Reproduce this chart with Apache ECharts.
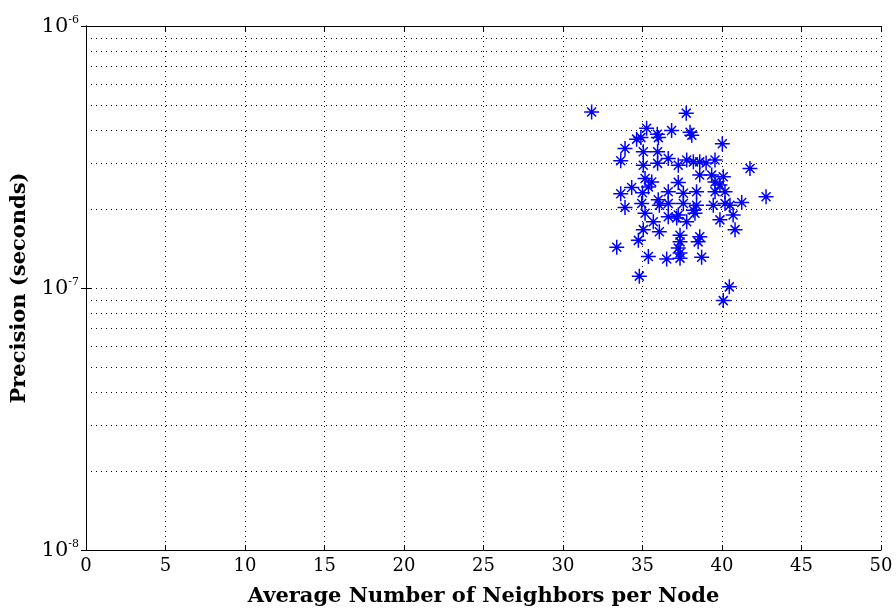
<!DOCTYPE html>
<html>
<head>
<meta charset="utf-8">
<script src="https://cdn.jsdelivr.net/npm/echarts@6/dist/echarts.min.js"></script>
<style>html,body{margin:0;padding:0;background:#fff}#c{width:896px;height:613px}</style>
</head>
<body>
<div id="c"></div>
<script>
// Average number of neighbors per node
var xValues = [31.8,37.75,35.26,36.83,37.99,35.93,38.1,34.63,34.9,36.0,40.02,33.9,35.05,35.95,33.63,36.62,35.05,35.95,37.25,37.78,38.2,38.6,39.0,39.56,41.76,38.6,35.16,35.58,35.37,37.25,36.62,37.57,38.4,39.35,39.56,39.87,40.08,39.56,40.19,34.32,33.63,35.0,42.77,41.24,33.9,34.95,35.99,36.62,37.57,38.4,39.45,40.19,35.16,36.62,37.25,37.15,38.2,38.3,37.78,39.87,40.7,35.68,35.05,36.06,37.36,38.6,40.82,37.36,38.5,37.25,37.36,35.37,36.52,37.36,38.72,34.74,33.38,34.8,40.46,40.08,36.06,40.5];
// Precision (seconds)
var yValues = [4.7e-7,4.65e-7,4.07e-7,3.99e-7,3.93e-7,3.86e-7,3.83e-7,3.70e-7,3.75e-7,3.75e-7,3.55e-7,3.41e-7,3.31e-7,3.31e-7,3.06e-7,3.12e-7,2.94e-7,2.99e-7,2.94e-7,3.08e-7,3.03e-7,3.03e-7,3.0e-7,3.08e-7,2.86e-7,2.70e-7,2.62e-7,2.54e-7,2.43e-7,2.53e-7,2.33e-7,2.30e-7,2.33e-7,2.70e-7,2.54e-7,2.47e-7,2.66e-7,2.33e-7,2.33e-7,2.42e-7,2.29e-7,2.31e-7,2.23e-7,2.12e-7,2.03e-7,2.10e-7,2.17e-7,2.10e-7,2.10e-7,2.07e-7,2.07e-7,2.10e-7,1.93e-7,1.87e-7,1.90e-7,1.85e-7,1.98e-7,1.93e-7,1.79e-7,1.82e-7,1.90e-7,1.79e-7,1.67e-7,1.64e-7,1.59e-7,1.57e-7,1.67e-7,1.50e-7,1.50e-7,1.42e-7,1.36e-7,1.32e-7,1.29e-7,1.30e-7,1.31e-7,1.52e-7,1.43e-7,1.11e-7,1.01e-7,8.95e-8,2.07e-7,2.07e-7];
var xTicks = [0,5,10,15,20,25,30,35,40,45,50];
var yTickExponents = [-8,-7,-6];

var xName = 'Average Number of Neighbors per Node';
var yName = 'Precision (seconds)';

var points = xValues.map(function(x, i){ return [x, yValues[i]]; });
var star = 'path://M9 0H11V20H9Z M0 9H20V11H0Z M3.3 4.7L4.7 3.3L16.7 15.3L15.3 16.7Z M15.3 3.3L16.7 4.7L4.7 16.7L3.3 15.3Z';
var serif = 'DejaVu Serif';
var dotted = {color:'#000', width:1, type:[1,4]};

var chart = echarts.init(document.getElementById('c'), null, {renderer:'canvas'});
chart.setOption({
  animation:false,
  backgroundColor:'#fff',
  grid:{left:86,right:15,top:26,bottom:63,containLabel:false,outerBoundsMode:'none'},
  xAxis:[{
    type:'value', min:xTicks[0], max:xTicks[xTicks.length-1], interval:5,
    name:xName, nameLocation:'middle', nameGap:36,
    nameTextStyle:{fontFamily:serif,fontSize:21,fontWeight:'bold',color:'#000'},
    axisLine:{show:true,lineStyle:{color:'#000',width:1}},
    axisTick:{show:true,inside:true,length:5,lineStyle:{color:'#000'}},
    axisLabel:{fontFamily:serif,fontSize:18,color:'#000',margin:7},
    splitLine:{show:true,lineStyle:dotted}
  },{
    type:'value', position:'top', min:xTicks[0], max:xTicks[xTicks.length-1], interval:5,
    axisLine:{show:true,lineStyle:{color:'#000',width:1}},
    axisTick:{show:true,inside:true,length:5,lineStyle:{color:'#000'}},
    axisLabel:{show:false}, splitLine:{show:false}
  }],
  yAxis:[{
    type:'log', logBase:10, min:Math.pow(10,yTickExponents[0]), max:Math.pow(10,yTickExponents[yTickExponents.length-1]),
    name:yName, nameLocation:'middle', nameGap:56,
    nameTextStyle:{fontFamily:serif,fontSize:21,fontWeight:'bold',color:'#000'},
    axisLine:{show:true,lineStyle:{color:'#000',width:1}},
    axisTick:{show:true,inside:true,length:5,lineStyle:{color:'#000'}},
    minorTick:{show:false,splitNumber:9},
    axisLabel:{
      margin:7,
      formatter:function(v){
        var e = Math.round(Math.log10(v));
        return '{b|10}{s|' + e + '}';
      },
      rich:{
        b:{fontFamily:serif,fontSize:21,color:'#000',verticalAlign:'bottom'},
        s:{fontFamily:serif,fontSize:11,color:'#000',verticalAlign:'top',padding:[0,0,12,0]}
      }
    },
    splitLine:{show:true,lineStyle:dotted},
    minorSplitLine:{show:true,lineStyle:dotted}
  },{
    type:'log', logBase:10, position:'right', min:Math.pow(10,yTickExponents[0]), max:Math.pow(10,yTickExponents[yTickExponents.length-1]),
    axisLine:{show:true,lineStyle:{color:'#000',width:1}},
    axisTick:{show:true,inside:true,length:5,lineStyle:{color:'#000'}},
    minorTick:{show:false},
    axisLabel:{show:false}, splitLine:{show:false}
  }],
  series:[{
    type:'scatter', xAxisIndex:0, yAxisIndex:0,
    data:points, symbol:star, symbolSize:15,
    itemStyle:{color:'#0000ff',opacity:1}
  }]
});
</script>
</body>
</html>
